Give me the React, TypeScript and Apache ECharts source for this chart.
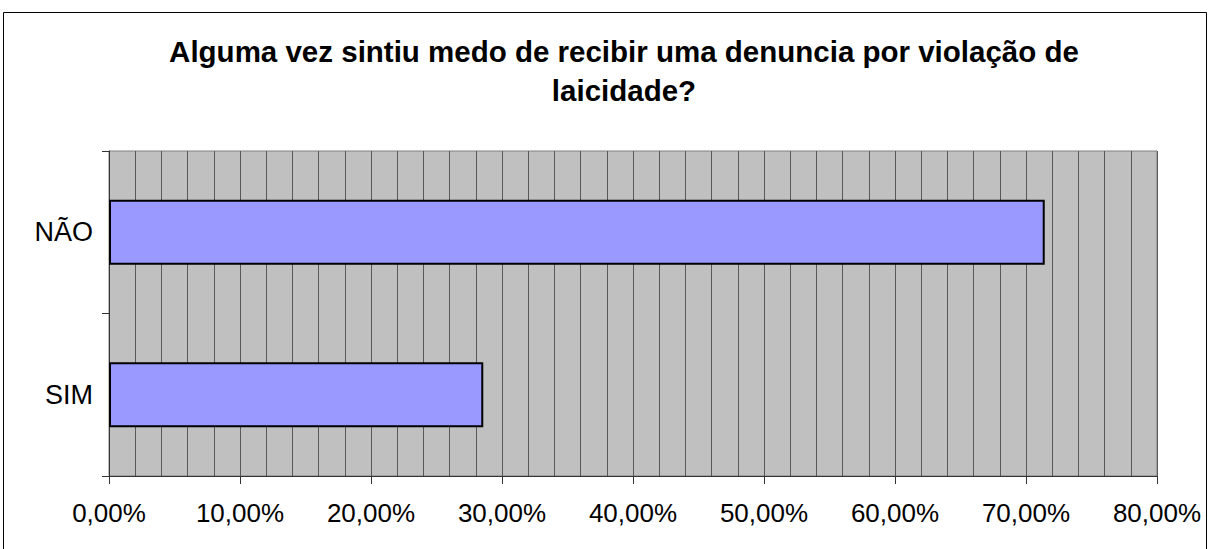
import React, { useEffect, useRef } from "react";
import * as echarts from "echarts";

const categories = ["SIM", "NÃO"];
const values = [28.57, 71.43];
const titleLines = ["Alguma vez sintiu medo de recibir uma denuncia por violação de", "laicidade?"];

export default function App() {
  const ref = useRef<HTMLDivElement>(null);
  useEffect(() => {
    const chart = echarts.init(ref.current!, null, { renderer: "svg" });
    chart.setOption({
      animation: false,
      backgroundColor: "#ffffff",
      graphic: [
        {
          type: "rect",
          shape: { x: 3.5, y: 12.5, width: 1203, height: 560 },
          style: { fill: "none", stroke: "#000", lineWidth: 1 },
          silent: true,
        },
        {
          type: "text",
          x: 624,
          y: 32,
          style: {
            text: titleLines.join("\n"),
            font: "bold 29.5px 'Liberation Sans', Arial, sans-serif",
            textAlign: "center",
            lineHeight: 39,
            fill: "#000",
          },
        },
      ],
      grid: {
        left: 109,
        right: 53,
        top: 151,
        bottom: 73,
        show: true,
        backgroundColor: "#c0c0c0",
        borderColor: "#808080",
        borderWidth: 1,
      },
      xAxis: {
        type: "value",
        min: 0,
        max: 80,
        interval: 10,
        axisLine: { show: true, lineStyle: { color: "#333", width: 1 } },
        axisTick: { show: true, length: 8, lineStyle: { color: "#333" } },
        axisLabel: {
          formatter: (v: number) => v.toFixed(2).replace(".", ",") + "%",
          fontSize: 26,
          fontFamily: "'Liberation Sans', Arial, sans-serif",
          color: "#000",
          margin: 24,
        },
        splitLine: { show: true, lineStyle: { color: "#595959", width: 1 } },
        minorTick: { show: false, splitNumber: 5 },
        minorSplitLine: { show: true, lineStyle: { color: "#595959", width: 1 } },
      },
      yAxis: {
        type: "category",
        data: categories,
        axisLine: { show: true, lineStyle: { color: "#333", width: 1 } },
        axisTick: { show: true, length: 7, alignWithLabel: false, lineStyle: { color: "#333" } },
        axisLabel: {
          fontSize: 27,
          fontFamily: "'Liberation Sans', Arial, sans-serif",
          color: "#000",
          margin: 16,
        },
        splitLine: { show: false },
      },
      series: [
        {
          type: "bar",
          data: values,
          barCategoryGap: "60%",
          itemStyle: { color: "#9999ff", borderColor: "#000", borderWidth: 2 },
        },
      ],
    });
    return () => chart.dispose();
  }, []);
  return <div ref={ref} style={{ width: 1210, height: 549, position: "absolute", left: 0, top: 0 }} />;
}
